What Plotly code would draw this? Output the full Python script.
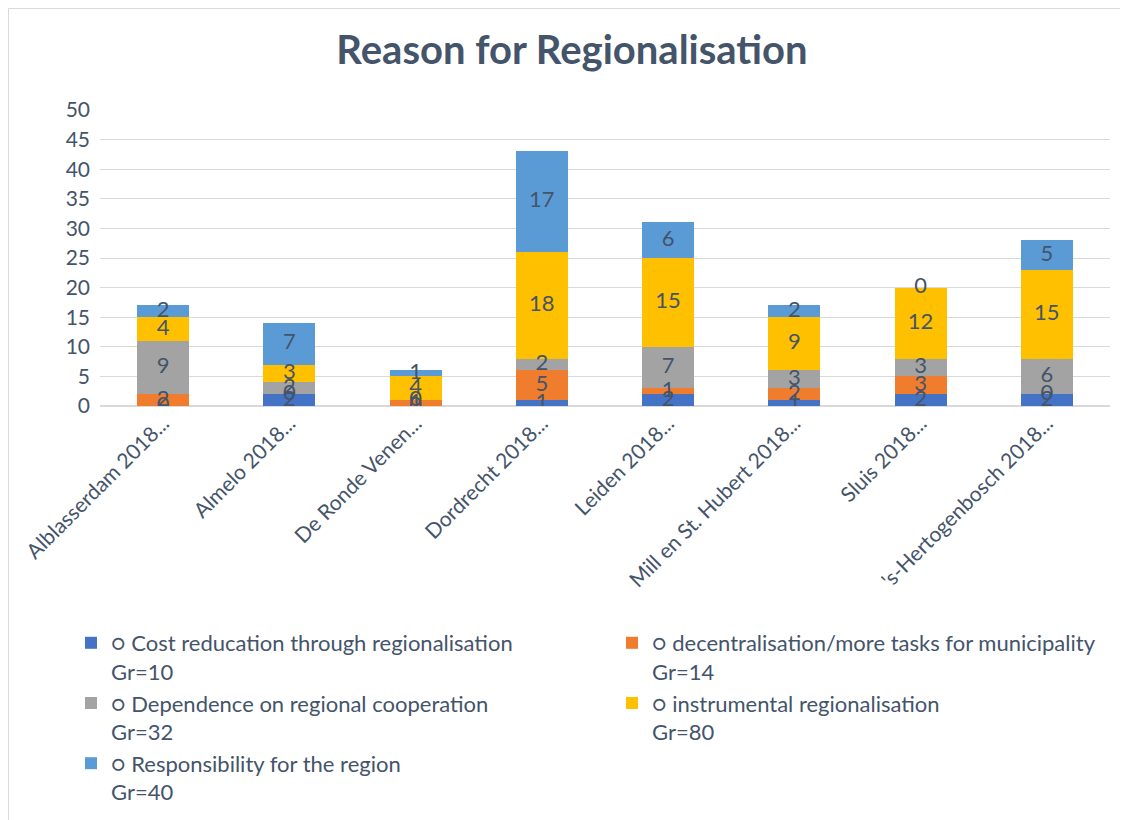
import plotly.graph_objects as go

categories = ["Alblasserdam 2018...", "Almelo 2018...", "De Ronde Venen...", "Dordrecht 2018...",
              "Leiden 2018...", "Mill en St. Hubert 2018...", "Sluis 2018...", "'s-Hertogenbosch 2018..."]
cost = [0, 2, 0, 1, 2, 1, 2, 2]
decentral = [2, 0, 1, 5, 1, 2, 3, 0]
dependence = [9, 2, 0, 2, 7, 3, 3, 6]
instrumental = [4, 3, 4, 18, 15, 9, 12, 15]
responsibility = [2, 7, 1, 17, 6, 2, 0, 5]

series = [
    ("○ Cost reducation through regionalisation<br>Gr=10", cost, "#4472C4"),
    ("○ decentralisation/more tasks for municipality<br>Gr=14", decentral, "#F07C2E"),
    ("○ Dependence on regional cooperation<br>Gr=32", dependence, "#A3A3A3"),
    ("○ instrumental regionalisation<br>Gr=80", instrumental, "#FFC000"),
    ("○ Responsibility for the region<br>Gr=40", responsibility, "#5B9BD5"),
]

TXT = "#44546A"
FONT = "Lato"

# figure is drawn with an 8px page offset; layout numbers are in figure coords
L, T, B, R = 92, 102, 422, 26
W, H = 1128, 820
PW, PH = W - L - R, H - T - B

fig = go.Figure()
base = [0] * len(categories)
lx, ly, lt = [], [], []
for name, vals, col in series:
    fig.add_trace(go.Bar(x=categories, y=vals, name=name, marker_color=col,
                         marker_line_width=0))
    for i, v in enumerate(vals):
        lx.append(categories[i])
        ly.append(base[i] + v / 2)
        lt.append(str(v))
    base = [b + v for b, v in zip(base, vals)]

fig.add_trace(go.Scatter(x=lx, y=ly, text=lt, mode="text", showlegend=False,
                         textfont=dict(size=22, color=TXT, family=FONT), hoverinfo="skip"))

fig.update_layout(
    barmode="stack",
    bargap=0.59,
    width=W, height=H,
    paper_bgcolor="white", plot_bgcolor="white",
    margin=dict(l=L, r=R, t=T, b=B, autoexpand=False),
    font=dict(family=FONT, color=TXT),
    title=dict(text="<b>Reason for Regionalisation</b>", x=564 / W, xanchor="center",
               y=1 - 42 / H, yanchor="middle", yref="container",
               font=dict(size=40, color=TXT, family=FONT)),
    yaxis=dict(range=[0, 50], dtick=5, showgrid=True, gridcolor="#D9D9D9", gridwidth=1,
               zeroline=True, zerolinecolor="#D9D9D9", tickfont=dict(size=21, color=TXT),
               ticks="", ticklabelstandoff=9, fixedrange=True),
    xaxis=dict(tickangle=-45, tickfont=dict(size=21, color=TXT), showline=False,
               ticks="", fixedrange=True),
    legend=dict(orientation="h", xref="paper", yref="paper",
                x=(63 - L) / PW, y=(H - B - 614) / PH, xanchor="left", yanchor="top",
                entrywidth=496, entrywidthmode="pixels", traceorder="normal",
                valign="top", itemwidth=30,
                font=dict(size=22, color=TXT, family=FONT)),
    shapes=[dict(type="rect", xref="paper", yref="paper",
                 x0=-(L - 0.5) / PW, x1=1 + 60 / PW, y0=-(B + 60) / PH, y1=1 + (T - 0.5) / PH,
                 line=dict(color="#D9D9D9", width=1), fillcolor="rgba(0,0,0,0)", layer="below")],
)

fig.write_html("out.html")
